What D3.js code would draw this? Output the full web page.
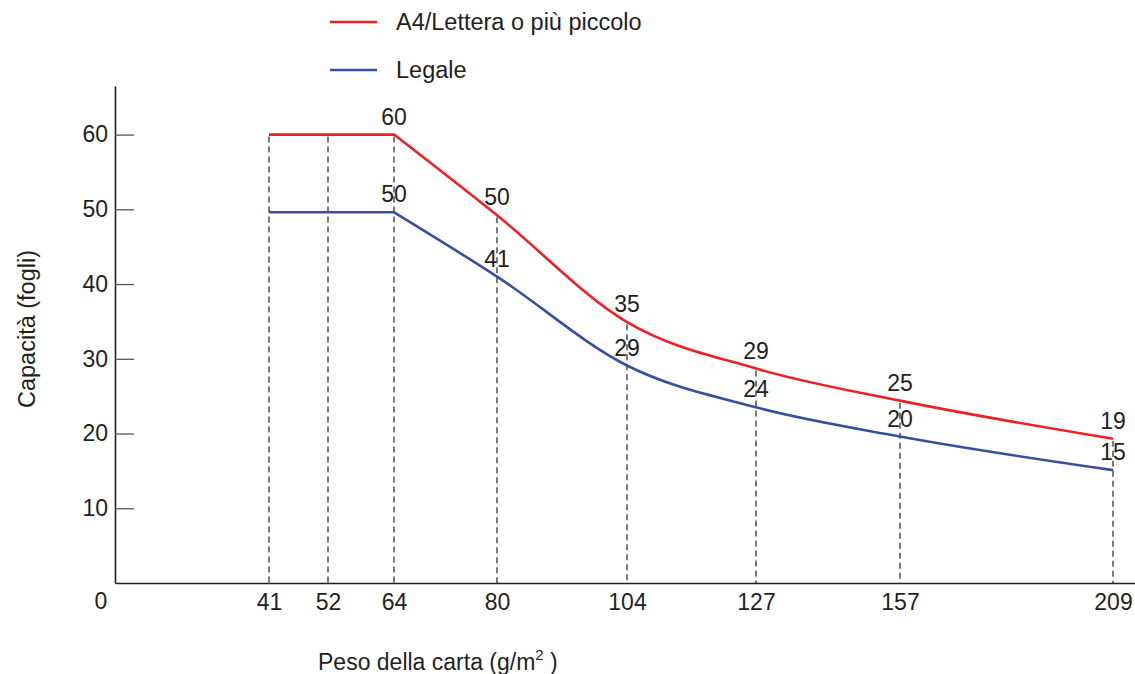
<!DOCTYPE html>
<html>
<head>
<meta charset="utf-8">
<script src="https://cdn.jsdelivr.net/npm/d3@7"></script>
<style>
  body { margin: 0; background: #fff; }
  text { font-family: "Liberation Sans", Arial, sans-serif; fill: #231f20; }
</style>
</head>
<body>
<svg id="chart" width="1135" height="674"></svg>
<script>
// paper weight (g/m2) where the curves have a point
let weights = [41, 64, 80, 104, 127, 157, 209];
// weights shown on the x axis
let xTicks = [41, 52, 64, 80, 104, 127, 157, 209];
let yTicks = [10, 20, 30, 40, 50, 60];

let a4Values = [60, 60, 49.2, 34.9, 28.7, 24.4, 19.3];
let a4Labels = ["", "60", "50", "35", "29", "25", "19"];
let legalValues = [49.6, 49.6, 41, 29.1, 23.5, 19.6, 15.1];
let legalLabels = ["", "50", "41", "29", "24", "20", "15"];

let seriesNames = ["A4/Lettera o più piccolo", "Legale"];
let seriesColors = ["#ed2024", "#34509f"];

let svg = d3.select("#chart");
let fontFamily = "Liberation Sans, Arial, sans-serif";

// the x axis is not to scale in the original, so piecewise
let x = d3.scaleLinear()
    .domain([0].concat(xTicks, [213]))
    .range([115, 269, 328, 394, 497, 627, 756, 900, 1113, 1135]);
let y = d3.scaleLinear().domain([0, 66.5]).range([583, 86]);

let series = [
    {name: seriesNames[0], color: seriesColors[0], values: a4Values, labels: a4Labels},
    {name: seriesNames[1], color: seriesColors[1], values: legalValues, labels: legalLabels}
];

// dashed drop lines from the top curve down to the axis
let topAt = d3.scaleLinear().domain(weights).range(a4Values);
svg.append("g").selectAll("line").data(xTicks).join("line")
    .attr("x1", d => x(d)).attr("x2", d => x(d))
    .attr("y1", d => y(topAt(d)) + 2)
    .attr("y2", y(0))
    .attr("stroke", "#333")
    .attr("stroke-width", 1.3)
    .attr("stroke-dasharray", "6,4");

// y axis
let yAxis = svg.append("g")
    .attr("transform", "translate(" + x(0) + ",0)")
    .call(d3.axisLeft(y).tickValues(yTicks).tickSizeInner(-19).tickSizeOuter(0).tickPadding(7));
yAxis.select(".domain").attr("stroke", "#231f20").attr("stroke-width", 1.6);
yAxis.selectAll(".tick line").attr("stroke", "#555").attr("stroke-width", 1.3);
yAxis.selectAll("text").attr("font-size", 23).style("font-family", fontFamily).attr("fill", "#231f20");

// x axis
let xAxis = svg.append("g")
    .attr("transform", "translate(0," + y(0) + ")")
    .call(d3.axisBottom(x).tickValues(xTicks).tickSize(0).tickSizeOuter(0).tickPadding(11));
xAxis.select(".domain").attr("stroke", "#231f20").attr("stroke-width", 1.6);
xAxis.selectAll("text").attr("font-size", 23).style("font-family", fontFamily).attr("fill", "#231f20");

svg.append("text")
    .attr("x", 101).attr("y", 609)
    .attr("text-anchor", "middle")
    .attr("font-size", 23)
    .text("0");

// flat part straight, the falling part smooth
let straight = d3.line()
    .x(d => x(d[0])).y(d => y(d[1]));
let smooth = d3.line()
    .x(d => x(d[0])).y(d => y(d[1]))
    .curve(d3.curveMonotoneX);

series.forEach(s => {
    let pts = weights.map((w, i) => [w, s.values[i]]);
    let knee = weights.indexOf(64);
    svg.append("path")
        .attr("d", straight(pts.slice(0, knee + 1)) + smooth(pts.slice(knee)).replace(/^M[^CL]*/, ""))
        .attr("fill", "none")
        .attr("stroke", s.color)
        .attr("stroke-width", 2.6)
        .attr("stroke-linejoin", "round");

    svg.append("g").selectAll("text").data(s.values).join("text")
        .attr("x", (d, i) => x(weights[i]))
        .attr("y", d => y(d) - 10)
        .attr("text-anchor", "middle")
        .attr("font-size", 23)
        .text((d, i) => s.labels[i]);
});

// legend
let legend = svg.append("g").selectAll("g").data(series).join("g")
    .attr("transform", (d, i) => "translate(330," + (22 + i * 48) + ")");
legend.append("line")
    .attr("x1", 0).attr("x2", 47)
    .attr("stroke", d => d.color)
    .attr("stroke-width", 2.6);
legend.append("text")
    .attr("x", 66).attr("y", 8)
    .attr("font-size", 23.5)
    .text(d => d.name);

// axis titles
svg.append("text")
    .attr("transform", "translate(35,329) rotate(-90)")
    .attr("text-anchor", "middle")
    .attr("font-size", 23.5)
    .text("Capacità (fogli)");

let xTitle = svg.append("text")
    .attr("x", 318).attr("y", 670)
    .attr("font-size", 23);
xTitle.append("tspan").text("Peso della carta (g/m");
xTitle.append("tspan").attr("font-size", 15).attr("dy", -10).text("2");
xTitle.append("tspan").attr("dy", 10).text(" )");
</script>
</body>
</html>
